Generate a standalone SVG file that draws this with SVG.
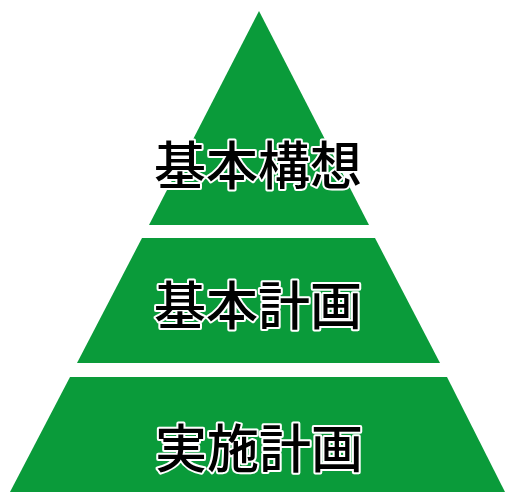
<svg xmlns="http://www.w3.org/2000/svg" width="505" height="492" viewBox="0 0 505 492">
<style>
.tier{fill:#0a9b3a;}
.lbl{font-family:"Noto Sans CJK JP","Noto Sans CJK SC",sans-serif;font-size:52px;font-weight:500;fill:#000;stroke:#fff;stroke-width:4px;paint-order:stroke;stroke-linejoin:round;text-anchor:middle;dominant-baseline:central;}
</style>
<rect width="505" height="492" fill="#fff"/>
<g id="tier-top">
<polygon class="tier" points="259,11 369,225 149,225"/>
<text class="lbl" x="258" y="162">基本構想</text>
</g>
<g id="tier-middle">
<polygon class="tier" points="142,238 375,238 440,363 77,363"/>
<text class="lbl" x="258" y="302">基本計画</text>
</g>
<g id="tier-bottom">
<polygon class="tier" points="70,377 447,377 505,492 10,492"/>
<text class="lbl" x="259" y="445">実施計画</text>
</g>
<g id="connectors"></g>
</svg>
